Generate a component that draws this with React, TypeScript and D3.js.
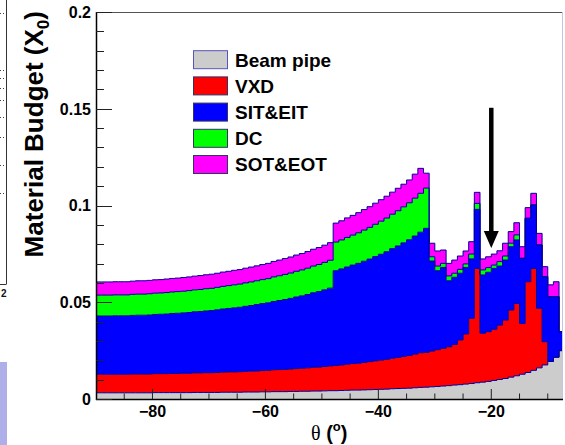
import React from 'react';
import * as d3 from 'd3';

// Lower edge of each 1-degree theta bin
const binLow = [
  -90, -89, -88, -87, -86, -85, -84, -83, -82, -81,
  -80, -79, -78, -77, -76, -75, -74, -73, -72, -71,
  -70, -69, -68, -67, -66, -65, -64, -63, -62, -61,
  -60, -59, -58, -57, -56, -55, -54, -53, -52, -51,
  -50, -49, -48, -47, -46, -45, -44, -43, -42, -41,
  -40, -39, -38, -37, -36, -35, -34, -33, -32, -31,
  -30, -29, -28, -27, -26, -25, -24, -23, -22, -21,
  -20, -19, -18, -17, -16, -15, -14, -13, -12, -11,
  -10, -9, -8,
];

const beamPipe = [
  0.0032, 0.0032, 0.0032, 0.0032, 0.0032, 0.0032, 0.0032, 0.0032, 0.0032, 0.0032,
  0.0033, 0.0033, 0.0033, 0.0033, 0.0033, 0.0033, 0.0033, 0.0034, 0.0034, 0.0034,
  0.0034, 0.0034, 0.0035, 0.0035, 0.0035, 0.0035, 0.0036, 0.0036, 0.0036, 0.0037,
  0.0037, 0.0038, 0.0038, 0.0038, 0.0039, 0.0039, 0.0040, 0.0040, 0.0041, 0.0041,
  0.0042, 0.0043, 0.0043, 0.0044, 0.0045, 0.0046, 0.0046, 0.0047, 0.0048, 0.0049,
  0.0050, 0.0051, 0.0053, 0.0054, 0.0055, 0.0056, 0.0058, 0.0060, 0.0061, 0.0063,
  0.0065, 0.0067, 0.0069, 0.0072, 0.0074, 0.0077, 0.0080, 0.0084, 0.0087, 0.0091,
  0.0096, 0.0101, 0.0106, 0.0113, 0.0120, 0.0128, 0.0137, 0.0148, 0.0161, 0.0176,
  0.0194, 0.0216, 0.0250,
];

const vxd = [
  0.0096, 0.0096, 0.0096, 0.0096, 0.0096, 0.0096, 0.0097, 0.0097, 0.0097, 0.0097,
  0.0098, 0.0098, 0.0098, 0.0099, 0.0099, 0.0100, 0.0100, 0.0101, 0.0101, 0.0102,
  0.0102, 0.0103, 0.0104, 0.0105, 0.0105, 0.0106, 0.0107, 0.0108, 0.0109, 0.0110,
  0.0111, 0.0113, 0.0114, 0.0115, 0.0116, 0.0118, 0.0119, 0.0121, 0.0123, 0.0124,
  0.0126, 0.0128, 0.0130, 0.0132, 0.0135, 0.0137, 0.0139, 0.0142, 0.0145, 0.0148,
  0.0151, 0.0154, 0.0158, 0.0161, 0.0165, 0.0169, 0.0174, 0.0179, 0.0180, 0.0185,
  0.0190, 0.0195, 0.0201, 0.0210, 0.0231, 0.0259, 0.0337, 0.0591, 0.0253, 0.0257,
  0.0264, 0.0281, 0.0302, 0.0347, 0.0374, 0.0262, 0.0469, 0.0527, 0.0308, 0.0120,
  0, 0, 0,
];

const sitEit = [
  0.0301, 0.0301, 0.0301, 0.0302, 0.0302, 0.0302, 0.0303, 0.0304, 0.0304, 0.0305,
  0.0306, 0.0307, 0.0308, 0.0310, 0.0311, 0.0312, 0.0314, 0.0316, 0.0317, 0.0319,
  0.0321, 0.0324, 0.0326, 0.0328, 0.0331, 0.0333, 0.0336, 0.0339, 0.0343, 0.0346,
  0.0349, 0.0353, 0.0357, 0.0361, 0.0365, 0.0370, 0.0374, 0.0379, 0.0385, 0.0390,
  0.0396, 0.0402, 0.0490, 0.0496, 0.0502, 0.0509, 0.0516, 0.0523, 0.0530, 0.0539,
  0.0547, 0.0556, 0.0566, 0.0576, 0.0587, 0.0598, 0.0610, 0.0623, 0.0641, 0.0465,
  0.0408, 0.0418, 0.0341, 0.0347, 0.0345, 0.0344, 0.0307, 0.0305, 0.0301, 0.0307,
  0.0315, 0.0305, 0.0310, 0.0327, 0.0328, 0.0337, 0.0328, 0.0328, 0.0327, 0.0336,
  0.0335, 0.0313, 0.0098,
];

const dc = [
  0.0108, 0.0108, 0.0108, 0.0108, 0.0108, 0.0108, 0.0109, 0.0109, 0.0109, 0.0110,
  0.0110, 0.0110, 0.0111, 0.0111, 0.0112, 0.0112, 0.0113, 0.0113, 0.0114, 0.0115,
  0.0115, 0.0116, 0.0117, 0.0118, 0.0119, 0.0120, 0.0121, 0.0122, 0.0123, 0.0124,
  0.0125, 0.0127, 0.0128, 0.0130, 0.0131, 0.0133, 0.0134, 0.0136, 0.0138, 0.0140,
  0.0142, 0.0144, 0.0148, 0.0150, 0.0153, 0.0155, 0.0158, 0.0161, 0.0164, 0.0167,
  0.0171, 0.0174, 0.0178, 0.0182, 0.0186, 0.0191, 0.0196, 0.0201, 0.0208, 0.0022,
  0.0024, 0.0021, 0.0025, 0.0021, 0.0020, 0.0018, 0.0025, 0.0031, 0.0026, 0.0024,
  0.0017, 0.0023, 0.0021, 0.0018, 0.0026, 0, 0, 0, 0, 0,
  0, 0, 0,
];

const sotEot = [
  0.0068, 0.0068, 0.0068, 0.0068, 0.0068, 0.0068, 0.0068, 0.0069, 0.0069, 0.0069,
  0.0069, 0.0069, 0.0070, 0.0070, 0.0070, 0.0071, 0.0071, 0.0071, 0.0072, 0.0072,
  0.0073, 0.0073, 0.0074, 0.0074, 0.0075, 0.0075, 0.0076, 0.0077, 0.0077, 0.0078,
  0.0079, 0.0080, 0.0081, 0.0082, 0.0083, 0.0084, 0.0085, 0.0086, 0.0087, 0.0088,
  0.0089, 0.0091, 0.0098, 0.0099, 0.0101, 0.0102, 0.0104, 0.0106, 0.0107, 0.0109,
  0.0111, 0.0113, 0.0114, 0.0116, 0.0117, 0.0118, 0.0124, 0.0129, 0.0077, 0.0070,
  0.0078, 0.0069, 0.0065, 0.0068, 0.0069, 0.0067, 0.0064, 0.0057, 0.0057, 0.0056,
  0.0057, 0.0056, 0.0066, 0.0060, 0.0063, 0.0060, 0.0055, 0.0060, 0.0060, 0.0052,
  0.0061, 0.0077, 0,
];

const seriesKeys = ['beam', 'vxd', 'sit', 'dc', 'sot'];
const seriesNames = ['Beam pipe', 'VXD', 'SIT&EIT', 'DC', 'SOT&EOT'];
const seriesColors = ['#cccccc', '#ff0000', '#0000ff', '#00ff00', '#ff00ff'];

const xTicksMajor = [-80, -60, -40, -20];
const yTicksMajor = [0, 0.05, 0.1, 0.15, 0.2];

const arrowTheta = -20;
const arrowFrom = 0.1505;
const arrowTo = 0.078;

const W = 565;
const H = 445;
const L = 96;
const R = 563;
const T = 12;
const B = 399;
const LINE = '#000099';
const SANS = '"Liberation Sans", Arial, Helvetica, sans-serif';

export default function App() {
  const x = d3.scaleLinear().domain([-90, -7.3]).range([L, R]);
  const y = d3.scaleLinear().domain([0, 0.2]).range([B, T]);

  const rows = binLow.map((t, i) => ({
    theta: t,
    beam: beamPipe[i],
    vxd: vxd[i],
    sit: sitEit[i],
    dc: dc[i],
    sot: sotEot[i],
  }));
  const stacked = d3.stack<any>().keys(seriesKeys)(rows);

  const layers = stacked.map((layer) => {
    const pts: { x0: number; lo: number; hi: number }[] = [];
    layer.forEach((d, i) => {
      pts.push({ x0: rows[i].theta, lo: d[0], hi: d[1] });
      pts.push({ x0: rows[i].theta + 1, lo: d[0], hi: d[1] });
    });
    const area = d3
      .area<any>()
      .x((p) => x(p.x0))
      .y0((p) => y(p.lo))
      .y1((p) => y(p.hi));
    const line = d3
      .line<any>()
      .x((p) => x(p.x0))
      .y((p) => y(p.hi));
    return { area: area(pts) || '', line: line(pts) || '' };
  });

  const xMinor = x.ticks(20).filter((t) => !xTicksMajor.includes(t) && t > -90);
  const yMinor = y.ticks(20).filter((t) => !yTicksMajor.some((m) => Math.abs(m - t) < 1e-9));
  const fmtY = (v: number) => (v === 0 ? '0' : d3.format('~g')(v));
  const fmtX = d3.format('d');

  const ax = x(arrowTheta);
  const headLen = 17;
  const headHalf = 7.5;

  const legendY = [59.7, 85.9, 112.1, 138.3, 164.5];

  const leftDots = [13, 70, 78, 88, 100, 117, 137, 165, 193];

  return (
    <svg
      width={W}
      height={H}
      style={{ position: 'absolute', left: 0, top: 0, background: '#fff' }}
      xmlns="http://www.w3.org/2000/svg"
    >
      <rect x={0} y={0} width={W} height={H} fill="#ffffff" />

      {/* remnants of neighbouring panel */}
      <line x1={6.5} y1={0} x2={6.5} y2={284} stroke="#333" strokeWidth={1} />
      <line x1={0} y1={284.5} x2={6.5} y2={284.5} stroke="#333" strokeWidth={1} />
      {leftDots.map((d, i) => (
        <line key={i} x1={0} y1={d + 0.5} x2={6} y2={d + 0.5} stroke="#444" strokeWidth={1} strokeDasharray="1,2" />
      ))}
      <text x={1} y={297} fontFamily={SANS} fontWeight="bold" fontSize={10} fill="#111">2</text>
      <rect x={0} y={362} width={7} height={83} fill="#aeaee8" />

      <defs>
        <clipPath id="plotclip">
          <rect x={L} y={T} width={R - L} height={B - T} />
        </clipPath>
      </defs>

      <g clipPath="url(#plotclip)">
        {layers.map((l, i) => (
          <path key={'a' + i} d={l.area} fill={seriesColors[i]} stroke="none" />
        ))}
        {layers.map((l, i) => (
          <path key={'l' + i} d={l.line} fill="none" stroke={LINE} strokeWidth={1} />
        ))}
      </g>

      {/* frame */}
      <line x1={L} y1={T + 0.5} x2={R} y2={T + 0.5} stroke="#555" strokeWidth={1} />
      <line x1={R - 0.5} y1={T} x2={R - 0.5} y2={B} stroke="#c4c4e4" strokeWidth={1} />
      <line x1={L + 0.5} y1={T} x2={L + 0.5} y2={B + 1} stroke="#000" strokeWidth={1.5} />
      <line x1={L} y1={B + 0.5} x2={R} y2={B + 0.5} stroke="#000" strokeWidth={1.5} />

      {/* y ticks */}
      {yTicksMajor.map((t) => (
        <g key={'ym' + t}>
          <line x1={L} x2={L + 16} y1={Math.round(y(t)) + 0.5} y2={Math.round(y(t)) + 0.5} stroke="#222" strokeWidth={1} />
          <text
            x={91}
            y={y(t)}
            dy="0.36em"
            textAnchor="end"
            fontFamily={SANS}
            fontWeight="bold"
            fontSize={16}
            fill="#000"
          >
            {fmtY(t)}
          </text>
        </g>
      ))}
      {yMinor.map((t) => (
        <line key={'yn' + t} x1={L} x2={L + 8} y1={Math.round(y(t)) + 0.5} y2={Math.round(y(t)) + 0.5} stroke="#222" strokeWidth={1} />
      ))}

      {/* x ticks */}
      {xTicksMajor.map((t) => (
        <g key={'xm' + t}>
          <line x1={x(t)} x2={x(t)} y1={B} y2={B - 10} stroke="#222" strokeWidth={1} />
          <text
            x={x(t)}
            y={417}
            textAnchor="middle"
            fontFamily={SANS}
            fontWeight="bold"
            fontSize={16}
            fill="#000"
          >
            {fmtX(t)}
          </text>
        </g>
      ))}
      {xMinor.map((t) => (
        <line key={'xn' + t} x1={x(t)} x2={x(t)} y1={B} y2={B - 5.5} stroke="#222" strokeWidth={1} />
      ))}

      {/* axis titles */}
      <text
        transform="translate(43,11) rotate(-90)"
        textAnchor="end"
        fontFamily={SANS}
        fontWeight="bold"
        fontSize={26}
        fill="#000"
      >
        Material Budget (X
        <tspan fontSize={17} dy={6}>0</tspan>
        <tspan dy={-6}>)</tspan>
      </text>

      <text x={311} y={440} fontSize={20} fill="#000">
        <tspan fontFamily={'"Liberation Serif", "DejaVu Serif", serif'}>θ</tspan>
        <tspan fontFamily={SANS} fontWeight="bold"> (</tspan>
        <tspan fontFamily={SANS} fontWeight="bold" fontSize={13} dy={-9}>o</tspan>
        <tspan fontFamily={SANS} fontWeight="bold" dy={9}>)</tspan>
      </text>

      {/* legend */}
      {seriesNames.map((n, i) => (
        <g key={'lg' + i}>
          <rect
            x={193.5}
            y={legendY[i] - 9}
            width={34}
            height={18}
            fill={seriesColors[i]}
            stroke={i === 0 ? '#5555bb' : '#333366'}
            strokeWidth={1}
          />
          <text
            x={235}
            y={legendY[i] + 6.8}
            fontFamily={SANS}
            fontWeight="bold"
            fontSize={19}
            fill="#000"
          >
            {n}
          </text>
        </g>
      ))}

      {/* arrow */}
      <line x1={ax} x2={ax} y1={y(arrowFrom)} y2={y(arrowTo) - headLen + 1} stroke="#000" strokeWidth={4.5} />
      <path
        d={`M${ax - headHalf},${y(arrowTo) - headLen} L${ax + headHalf},${y(arrowTo) - headLen} L${ax},${y(arrowTo)} Z`}
        fill="#000"
      />
    </svg>
  );
}
